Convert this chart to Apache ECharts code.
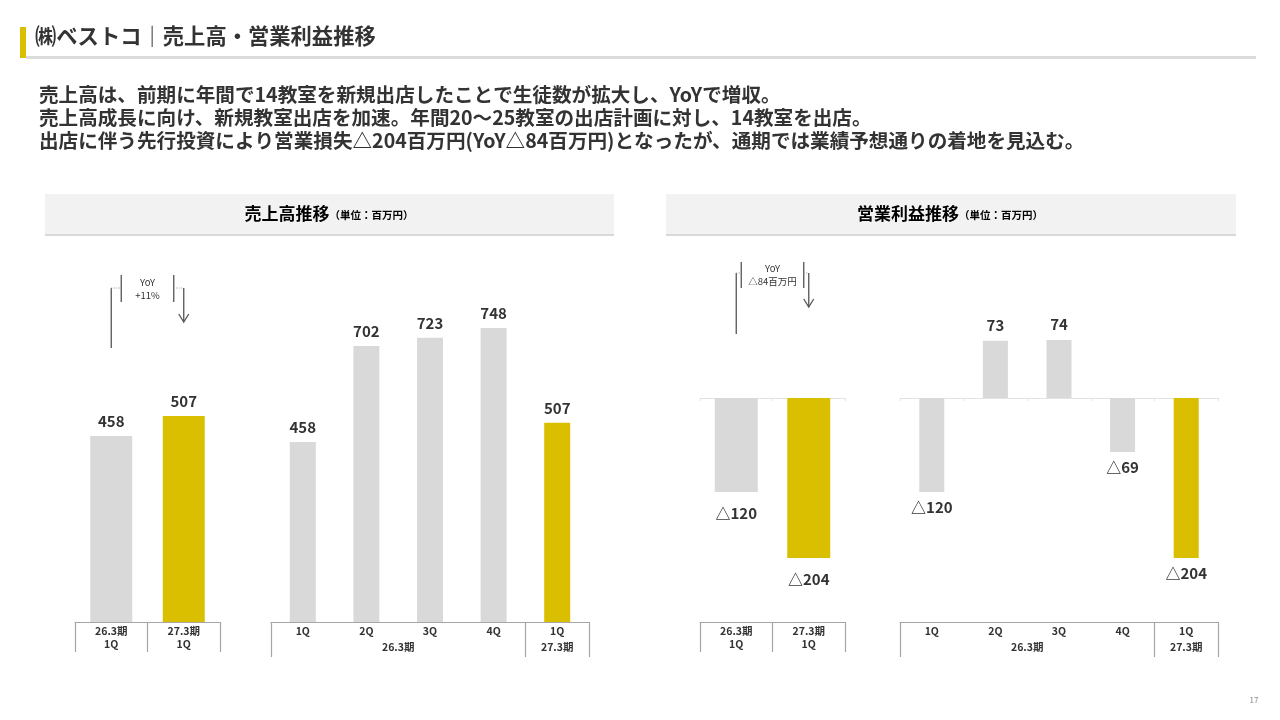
<!DOCTYPE html>
<html><head><meta charset="utf-8">
<script src="https://cdn.jsdelivr.net/npm/echarts@6/dist/echarts.min.js"></script>
<style>html,body{margin:0;padding:0;background:#fff}#c{width:1280px;height:720px}</style>
</head><body><div id="c"></div>
<script>
// ---- data ----
const cmpCats = ['26.3期\n1Q', '27.3期\n1Q'];
const qCats = ['1Q', '2Q', '3Q', '4Q', '1Q'];
const periodNames = ['26.3期', '27.3期'];
const periodSpans = [4, 1];
const salesCmp = [458, 507];
const salesQ = [458, 702, 723, 748, 507];
const opCmp = [-120, -204];
const opQ = [-120, 73, 74, -69, -204];
const salesYoY = ['YoY', '+11%'];
const opYoY = ['YoY', '△84百万円'];
const titleText = '㈱ベストコ｜売上高・営業利益推移';
const bodyLines = [
  '売上高は、前期に年間で14教室を新規出店したことで生徒数が拡大し、YoYで増収。',
  '売上高成長に向け、新規教室出店を加速。年間20～25教室の出店計画に対し、14教室を出店。',
  '出店に伴う先行投資により営業損失△204百万円(YoY△84百万円)となったが、通期では業績予想通りの着地を見込む。'
];
const panelTitles = [['売上高推移', '（単位：百万円）'], ['営業利益推移', '（単位：百万円）']];

// ---- style ----
const FONT = '"Noto Sans CJK JP", "Noto Sans", sans-serif';
const GRAY = '#d9d9d9', YEL = '#d9bf00', TXT = '#333333';

// period label positions on a half-band value axis
const periodPos = {};
let start = 0;
periodNames.forEach((n, i) => { periodPos[2 * start + periodSpans[i]] = n; start += periodSpans[i]; });
const periodStarts = [0]; periodSpans.slice(0, -1).reduce((a, s) => { periodStarts.push(a + s); return a + s; }, 0);

const fmt = v => v < 0 ? '△' + (-v) : String(v);
function barData(arr, dist) {
  return arr.map((v, i) => ({
    value: v,
    itemStyle: { color: i === arr.length - 1 ? YEL : GRAY },
    label: { position: v < 0 ? 'bottom' : 'top', distance: dist }
  }));
}
const labelBase = { show: true, fontFamily: FONT, fontSize: 15, fontWeight: 'bold', color: TXT, formatter: p => fmt(p.value) };
const axLabel = { fontFamily: FONT, fontSize: 10.5, fontWeight: 'bold', color: TXT, lineHeight: 13, margin: 3 };

function cmpAxis(grid, offset) {
  return { type: 'category', gridIndex: grid, data: cmpCats, position: 'bottom', offset: offset,
    axisLine: { onZero: false, lineStyle: { color: '#a6a6a6', width: 1.2 } },
    axisTick: { show: true, interval: 0, length: 30, lineStyle: { color: '#a6a6a6', width: 1.2 } },
    axisLabel: Object.assign({ interval: 0 }, axLabel) };
}
function qAxis(grid, offset) {
  return { type: 'category', gridIndex: grid, data: qCats, position: 'bottom', offset: offset,
    axisLine: { onZero: false, lineStyle: { color: '#a6a6a6', width: 1.2 } },
    axisTick: { show: true, length: 35, interval: (idx) => periodStarts.indexOf(idx) >= 0, lineStyle: { color: '#a6a6a6', width: 1.2 } },
    axisLabel: Object.assign({ interval: 0 }, axLabel) };
}
function periodAxis(grid, offset) {
  return { type: 'value', gridIndex: grid, min: 0, max: 10, interval: 1, position: 'bottom', offset: offset,
    axisLine: { show: false, onZero: false }, axisTick: { show: false }, splitLine: { show: false },
    axisLabel: Object.assign({}, axLabel, { showMinLabel: true, showMaxLabel: true, formatter: v => periodPos[v] || '' }) };
}
function zeroAxis(grid, cats) {
  return { type: 'category', gridIndex: grid, data: cats, position: 'bottom',
    axisLine: { onZero: true, lineStyle: { color: '#e3e3e3', width: 1 } },
    axisTick: { show: true, interval: 0, length: 3, lineStyle: { color: '#e3e3e3' } },
    axisLabel: { show: false } };
}

const chart = echarts.init(document.getElementById('c'), null, { renderer: 'canvas' });

const option = {
  animation: false,
  textStyle: { fontFamily: FONT },
  grid: [
    { left: 75, width: 145, top: 297, height: 325 },
    { left: 271, width: 318, top: 307.6, height: 314.4 },
    { left: 700, width: 145, top: 319.6, height: 274.4 },
    { left: 900, width: 318, top: 319.6, height: 274.4 }
  ],
  xAxis: [
    cmpAxis(0, 0),
    qAxis(1, 0),
    periodAxis(1, 16),
    zeroAxis(2, cmpCats),
    cmpAxis(2, 28),
    zeroAxis(3, qCats),
    qAxis(3, 28),
    periodAxis(3, 44)
  ],
  yAxis: [
    { type: 'value', gridIndex: 0, min: 0, max: 800, show: false },
    { type: 'value', gridIndex: 1, min: 0, max: 800, show: false },
    { type: 'value', gridIndex: 2, min: -250, max: 100, show: false },
    { type: 'value', gridIndex: 3, min: -250, max: 100, show: false }
  ],
  series: [
    { type: 'bar', xAxisIndex: 0, yAxisIndex: 0, barWidth: 42, data: barData(salesCmp, 7), label: labelBase },
    { type: 'bar', xAxisIndex: 1, yAxisIndex: 1, barWidth: 26, data: barData(salesQ, 7), label: labelBase },
    { type: 'bar', xAxisIndex: 3, yAxisIndex: 2, barWidth: 43, data: barData(opCmp, 14), label: labelBase },
    { type: 'bar', xAxisIndex: 5, yAxisIndex: 3, barWidth: 25, data: barData(opQ, 8), label: labelBase }
  ]
};
chart.setOption(option);

// ---- decorations ----
const g = [];
// title bar
g.push({ type: 'rect', shape: { x: 20, y: 27, width: 6, height: 31 }, style: { fill: YEL } });
g.push({ type: 'rect', shape: { x: 26, y: 56, width: 1230, height: 3 }, style: { fill: '#dcdcdc' } });
g.push({ type: 'text', left: 35, top: 25, style: { text: titleText, font: 'bold 21.3px ' + FONT, fill: TXT } });
// body text
bodyLines.forEach((t, i) => g.push({ type: 'text', left: 39, top: 85 + i * 23, style: { text: t, font: 'bold 19.6px ' + FONT, fill: TXT } }));
// panels
[[45, 569, 329], [666, 570, 950]].forEach((p, i) => {
  g.push({ type: 'rect', shape: { x: p[0], y: 194, width: p[1], height: 41 }, style: { fill: '#f2f2f2' } });
  g.push({ type: 'rect', shape: { x: p[0], y: 234, width: p[1], height: 2 }, style: { fill: '#d9d9d9' } });
  g.push({ type: 'text', x: p[2], y: 214, style: {
    text: '{a|' + panelTitles[i][0] + '}{b|' + panelTitles[i][1] + '}', align: 'center', verticalAlign: 'middle',
    rich: { a: { fontFamily: FONT, fontSize: 17, fontWeight: 'bold', color: TXT },
            b: { fontFamily: FONT, fontSize: 10.5, fontWeight: 'bold', color: TXT, padding: [3, 0, 0, 0] } } } });
});
// page number
g.push({ type: 'text', x: 1254, y: 700, style: { text: '17', font: '8px ' + FONT, fill: '#888', align: 'center', verticalAlign: 'middle' } });

function yoyBracket(xa, xb, cfg, texts) {
  const L = { stroke: '#555', lineWidth: 1.3 };
  const D = { stroke: '#999', lineWidth: 1, lineDash: [1, 1.5] };
  const s1 = xa + cfg.inset, s2 = xb - cfg.inset;
  g.push({ type: 'line', shape: { x1: xa, y1: cfg.longTop, x2: xa, y2: cfg.longBot }, style: L });
  g.push({ type: 'line', shape: { x1: s1, y1: cfg.shortTop, x2: s1, y2: cfg.shortBot }, style: L });
  g.push({ type: 'line', shape: { x1: s2, y1: cfg.shortTop, x2: s2, y2: cfg.shortBot }, style: L });
  g.push({ type: 'line', shape: { x1: xa, y1: cfg.longTop, x2: s1, y2: cfg.longTop }, style: D });
  g.push({ type: 'line', shape: { x1: s2, y1: cfg.longTop, x2: xb, y2: cfg.longTop }, style: D });
  g.push({ type: 'line', shape: { x1: xb, y1: cfg.longTop, x2: xb, y2: cfg.arrowBot }, style: L });
  g.push({ type: 'polyline', shape: { points: [[xb - 5, cfg.arrowBot - 8], [xb, cfg.arrowBot], [xb + 5, cfg.arrowBot - 8]] }, style: { stroke: '#555', lineWidth: 1.3, fill: null } });
  g.push({ type: 'text', x: (s1 + s2) / 2, y: cfg.textY, style: { text: texts.join('\n'), font: '9.5px ' + FONT, fill: TXT, align: 'center', verticalAlign: 'middle', lineHeight: 13 } });
}
const la = chart.convertToPixel({ xAxisIndex: 0 }, 0), lb = chart.convertToPixel({ xAxisIndex: 0 }, 1);
const ra = chart.convertToPixel({ xAxisIndex: 3 }, 0), rb = chart.convertToPixel({ xAxisIndex: 3 }, 1);
yoyBracket(la, lb, { inset: 10, longTop: 288, longBot: 348, shortTop: 275, shortBot: 302, arrowBot: 322, textY: 289 }, salesYoY);
yoyBracket(ra, rb, { inset: 5, longTop: 273, longBot: 334, shortTop: 262, shortBot: 288, arrowBot: 307, textY: 275 }, opYoY);

chart.setOption({ graphic: { elements: g } });
</script></body></html>
